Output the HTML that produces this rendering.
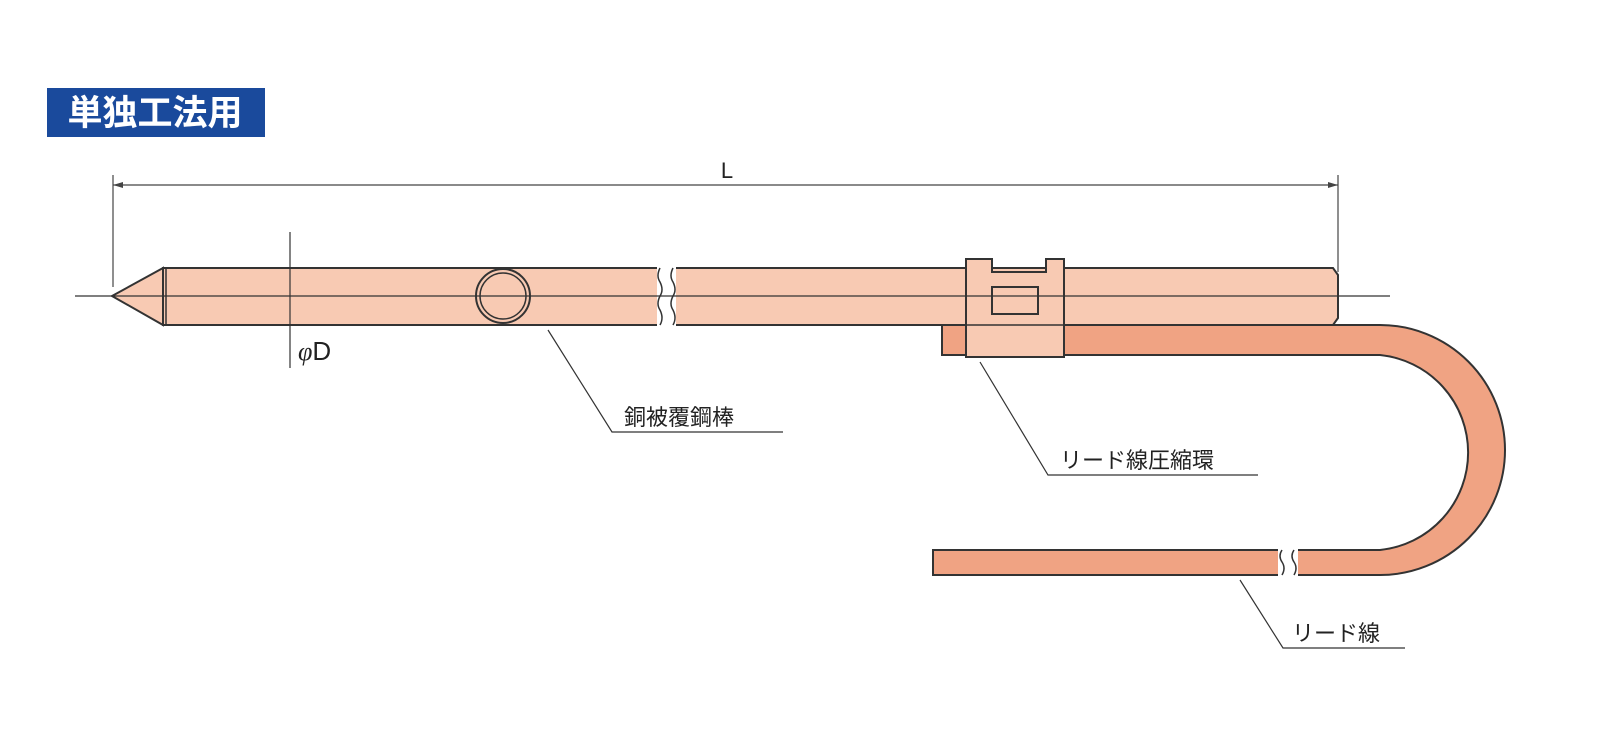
<!DOCTYPE html>
<html><head><meta charset="utf-8"><style>
html,body{margin:0;padding:0;background:#fff;width:1600px;height:733px;overflow:hidden}
svg text{font-family:"Liberation Sans","Noto Sans CJK JP",sans-serif}
</style></head><body>
<svg width="1600" height="733" viewBox="0 0 1600 733" xmlns="http://www.w3.org/2000/svg">
<rect x="47" y="88" width="218" height="49" fill="#1a4a9c"/>
<text x="155" y="125" font-size="35" fill="#fff" text-anchor="middle" font-weight="bold">単独工法用</text>
<!-- dimension L -->
<line x1="113" y1="175" x2="113" y2="287" stroke="#444" stroke-width="1.2"/>
<line x1="1338" y1="175" x2="1338" y2="272" stroke="#444" stroke-width="1.2"/>
<line x1="113" y1="185" x2="1338" y2="185" stroke="#444" stroke-width="1.2"/>
<path d="M113 185 l10 -3 v6z M1338 185 l-10 -3 v6z" fill="#444"/>
<text x="727" y="178" font-size="22" fill="#222" text-anchor="middle">L</text>
<!-- lead wire -->
<path d="M942 325 H1380 A125 125 0 0 1 1380 575 H933 V550 H1380 A98 98 0 0 0 1380 355 H942 Z" fill="#f0a383" stroke="#333" stroke-width="2"/>
<rect x="1278" y="546" width="20" height="33" fill="#fff"/>
<path d="M1282 550 q-4 6 0 12 q4 6 0 13 M1294 550 q-4 6 0 12 q4 6 0 13" fill="none" stroke="#333" stroke-width="1.5"/>
<!-- rod -->
<path d="M163 268 H660 V325 H163 Z" fill="#f8cab3" stroke="#333" stroke-width="2"/>
<path d="M673 268 H1333 L1338 275 V318 L1333 325 H673 Z" fill="#f8cab3" stroke="#333" stroke-width="2"/>
<path d="M163 268 L112 296 L163 325 Z" fill="#f8cab3" stroke="#333" stroke-width="2"/>
<line x1="166" y1="268" x2="166" y2="325" stroke="#333" stroke-width="1.5"/>
<rect x="657" y="266" width="19" height="62" fill="#fff"/>
<path d="M660 268 q-4 8 0 14 q4 8 0 14 q-4 8 0 14 q4 8 0 15 M673 268 q-4 8 0 14 q4 8 0 14 q-4 8 0 14 q4 8 0 15" fill="none" stroke="#333" stroke-width="1.5"/>
<circle cx="503" cy="296" r="27" fill="none" stroke="#333" stroke-width="2"/>
<circle cx="503" cy="296" r="23" fill="none" stroke="#333" stroke-width="1.5"/>
<!-- clamp -->
<path d="M966 259 H992 V272 H1046 V259 H1064 V357 H966 Z" fill="#f8cab3" stroke="#333" stroke-width="2"/>
<rect x="992" y="287" width="46" height="27" fill="none" stroke="#333" stroke-width="2"/>
<line x1="966" y1="325" x2="1064" y2="325" stroke="#333" stroke-width="1.5"/>
<!-- centerline -->
<line x1="75" y1="296" x2="1390" y2="296" stroke="#333" stroke-width="1.2"/>
<!-- phi D -->
<line x1="290" y1="232" x2="290" y2="368" stroke="#333" stroke-width="1.2"/>
<text x="298" y="360" font-size="26" fill="#222"><tspan font-style="italic" font-family="Liberation Serif, serif">φ</tspan>D</text>
<!-- leaders -->
<g stroke="#333" stroke-width="1.2" fill="none">
<polyline points="548,330 612,432 783,432"/>
<polyline points="980,362 1048,475 1258,475"/>
<polyline points="1240,580 1283,648 1405,648"/>
</g>
<g font-size="22" fill="#222">
<text x="624" y="425">銅被覆鋼棒</text>
<text x="1060" y="468">リード線圧縮環</text>
<text x="1292" y="641">リード線</text>
</g>
</svg>
</body></html>
